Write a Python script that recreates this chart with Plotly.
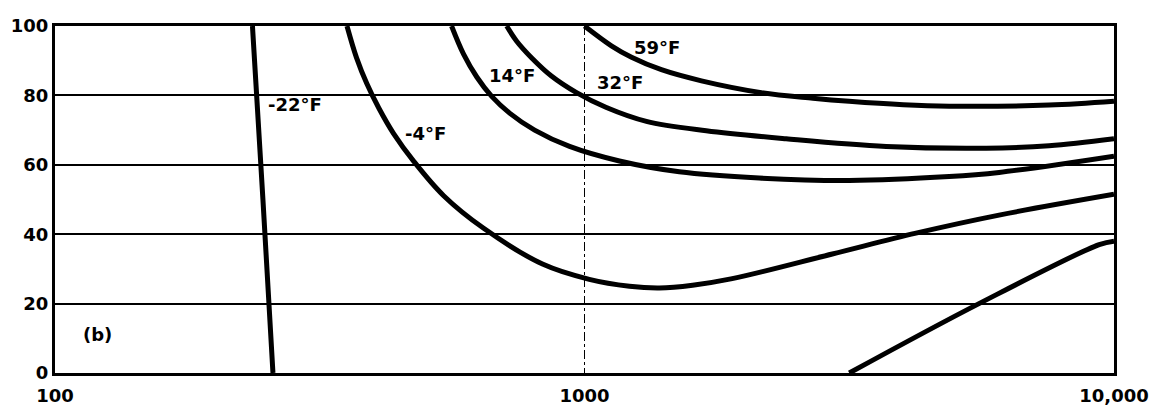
import math
import plotly.graph_objects as go

# Data (x on log scale, y in %)
x_m22 = [236, 247, 258]
y_m22 = [100, 50, 0]

x_m4 = [356, 371, 388, 409, 436, 476, 542, 645, 833, 1021, 1216, 1385, 1600, 1901, 2938, 4227, 6066, 10000]
y_m4 = [100, 90.9, 83.4, 76.3, 69, 61, 51.1, 41.7, 31.4, 27, 25, 24.5, 25.3, 27.2, 34.3, 40.3, 45.5, 51.5]

x_14 = [561, 591, 626, 668, 722, 805, 937, 1164, 1510, 2138, 3162, 4884, 6066, 10000]
y_14 = [100, 91.9, 85.3, 79.7, 74.9, 70.0, 65.3, 61.1, 58.0, 56.2, 55.5, 56.6, 57.8, 62.5]

x_32 = [713, 744, 795, 866, 966, 1100, 1309, 1698, 2404, 3713, 5734, 7540, 10000]
y_32 = [100, 95.7, 90.8, 85.6, 80.8, 76.5, 72.5, 69.8, 67.5, 65.3, 64.8, 65.5, 67.5]

x_59 = [1000, 1124, 1227, 1397, 1663, 2158, 2700, 3162, 4000, 4884, 7540, 10000]
y_59 = [100, 94.3, 91, 87.4, 84.2, 80.8, 79.2, 78.3, 77.3, 76.9, 77.2, 78.3]

x_low = [3162, 5559, 9376, 10000]
y_low = [0, 20, 37, 38]

labels = ["-22°F", "-4°F", "14°F", "32°F", "59°F", "(b)"]
label_x = [250, 455, 653, 1045, 1228, 112]
label_y = [77.4, 69, 85.7, 83.7, 93.7, 11]

x_ticks = [100, 1000, 10000]
x_ticktext = ["100", "1000", "10,000"]
y_ticks = [0, 20, 40, 60, 80, 100]

FONT = dict(family="DejaVu Sans", size=18, color="black", weight="bold")

fig = go.Figure()
for xs, ys in [(x_m22, y_m22), (x_m4, y_m4), (x_14, y_14), (x_32, y_32),
               (x_59, y_59), (x_low, y_low)]:
    fig.add_trace(go.Scatter(x=xs, y=ys, mode="lines",
                             line=dict(color="black", width=5, shape="spline", smoothing=1.0),
                             showlegend=False, hoverinfo="skip"))

for t, lx, ly in zip(labels, label_x, label_y):
    fig.add_annotation(x=math.log10(lx), y=ly, xref="x", yref="y", text=t,
                       showarrow=False, xanchor="left", yanchor="middle", font=FONT)

fig.update_layout(
    width=1174, height=417,
    margin=dict(l=55, r=60, t=26, b=44),
    paper_bgcolor="white", plot_bgcolor="white",
    font=FONT,
    showlegend=False,
)
fig.update_xaxes(type="log", range=[2, 4], tickvals=x_ticks, ticktext=x_ticktext,
                 showgrid=True, gridcolor="black", gridwidth=1, griddash="dashdot",
                 showline=True, linecolor="black", linewidth=3, mirror=True,
                 ticks="", tickfont=FONT, zeroline=False, ticklabelstandoff=4)
fig.update_yaxes(range=[0, 100], tickvals=y_ticks,
                 showgrid=True, gridcolor="black", gridwidth=1.5,
                 showline=True, linecolor="black", linewidth=3, mirror=True,
                 ticks="", tickfont=FONT, zeroline=False)

fig.write_html("out.html")
